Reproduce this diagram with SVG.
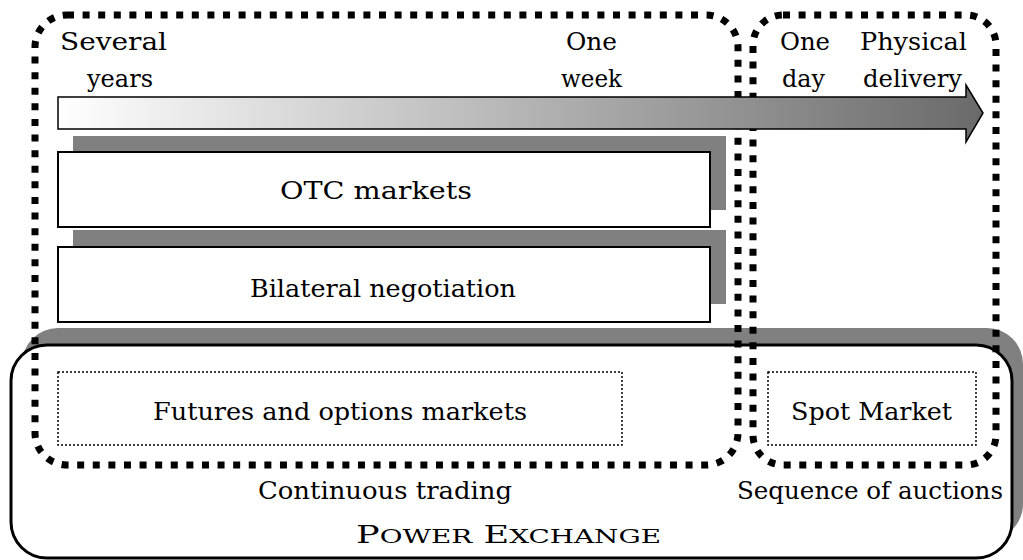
<svg xmlns="http://www.w3.org/2000/svg" width="1023" height="560" viewBox="0 0 1023 560">
  <style>
    text { font-family: "DejaVu Serif", serif; fill: #000; font-size: 24px; }
    .shadow { fill: #808080; }
    .box { fill: #fff; stroke: #000; stroke-width: 2; }
    .thin { fill: none; stroke: #000; stroke-width: 1.5; stroke-dasharray: 2 2; }
    .scope { fill: none; stroke: #000; stroke-width: 7; stroke-dasharray: 7 8.6; }
  </style>
  <defs>
    <linearGradient id="timeGrad" gradientUnits="userSpaceOnUse" x1="58" y1="0" x2="983" y2="0">
      <stop offset="0" stop-color="#ffffff"/>
      <stop offset="1" stop-color="#6a6a6a"/>
    </linearGradient>
  </defs>

  <!-- Power exchange frame -->
  <g id="power-exchange">
    <rect class="shadow" x="22" y="328" width="1001" height="212" rx="36"/>
    <rect x="11" y="345" width="1001" height="213" rx="36" fill="#fff" stroke="#000" stroke-width="3"/>
    <text x="356" y="543" textLength="305" lengthAdjust="spacingAndGlyphs">P<tspan font-size="19">OWER</tspan> E<tspan font-size="19">XCHANGE</tspan></text>
  </g>

  <!-- OTC markets -->
  <g id="otc">
    <rect class="shadow" x="73" y="136" width="653" height="74"/>
    <rect class="box" x="58" y="152" width="652" height="75"/>
    <text x="280" y="199" textLength="192" lengthAdjust="spacingAndGlyphs">OTC markets</text>
  </g>

  <!-- Bilateral negotiation -->
  <g id="bilateral">
    <rect class="shadow" x="73" y="230" width="653" height="74"/>
    <rect class="box" x="58" y="247" width="652" height="75"/>
    <text x="250" y="297" textLength="266" lengthAdjust="spacingAndGlyphs">Bilateral negotiation</text>
  </g>

  <!-- Futures and options markets -->
  <g id="futures">
    <rect class="thin" x="58" y="372" width="564" height="73"/>
    <text x="153" y="420" textLength="374" lengthAdjust="spacingAndGlyphs">Futures and options markets</text>
  </g>

  <!-- Spot market -->
  <g id="spot">
    <rect class="thin" x="768" y="372" width="208" height="73"/>
    <text x="791" y="420" textLength="161" lengthAdjust="spacingAndGlyphs">Spot Market</text>
  </g>

  <!-- Continuous trading scope -->
  <g id="continuous">
    <rect class="scope" x="35" y="15" width="703" height="450" rx="32"/>
    <text x="258" y="499" textLength="254" lengthAdjust="spacingAndGlyphs">Continuous trading</text>
  </g>

  <!-- Auction scope -->
  <g id="auctions">
    <rect class="scope" x="753" y="15" width="243" height="450" rx="30"/>
    <text x="737" y="499" textLength="266" lengthAdjust="spacingAndGlyphs">Sequence of auctions</text>
  </g>

  <!-- Time axis -->
  <g id="connectors">
    <polygon points="58,97 966,97 966,85 983,113 966,142 966,129 58,129" fill="url(#timeGrad)" stroke="#000" stroke-width="1.5" stroke-linejoin="miter"/>
  </g>

  <!-- Time labels -->
  <g id="time-labels">
    <text x="60" y="50" textLength="107" lengthAdjust="spacingAndGlyphs">Several</text>
    <text x="87" y="87" textLength="66" lengthAdjust="spacingAndGlyphs">years</text>
    <text x="566" y="50" textLength="51" lengthAdjust="spacingAndGlyphs">One</text>
    <text x="561" y="87" textLength="61" lengthAdjust="spacingAndGlyphs">week</text>
    <text x="780" y="50" textLength="50" lengthAdjust="spacingAndGlyphs">One</text>
    <text x="782" y="87" textLength="43" lengthAdjust="spacingAndGlyphs">day</text>
    <text x="860" y="50" textLength="107" lengthAdjust="spacingAndGlyphs">Physical</text>
    <text x="863" y="87" textLength="99" lengthAdjust="spacingAndGlyphs">delivery</text>
  </g>
</svg>
